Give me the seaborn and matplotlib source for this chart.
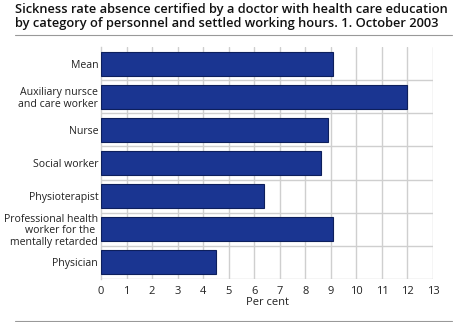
import matplotlib
matplotlib.use("Agg")
import matplotlib.pyplot as plt
import seaborn as sns
import pandas as pd
from matplotlib.lines import Line2D

categories = ["Mean", "Auxiliary nursce\nand care worker", "Nurse", "Social worker",
              "Physioterapist", "Professional health\nworker for the \nmentally retarded", "Physician"]
values = [9.1, 12.0, 8.9, 8.6, 6.4, 9.1, 4.5]
xticks = list(range(0, 14))

sns.set_theme(style="white")
plt.rcParams['font.family'] = ['Open Sans', 'DejaVu Sans']

df = pd.DataFrame({"cat": categories, "val": values})

fig = plt.figure(figsize=(4.62, 3.22), dpi=100)
ax = fig.add_axes([101/462, 1-279/322, (433-101)/462, (279-47)/322])

grid_c = "#cfcfcf"
for b in [i + 0.5 for i in range(len(categories))]:
    ax.axhline(b, color=grid_c, lw=1, zorder=1)
for t in xticks[1:]:
    ax.axvline(t, color=grid_c, lw=1, zorder=1)

sns.barplot(data=df, x="val", y="cat", orient="h", color="#1a3591", saturation=1,
            width=0.72, edgecolor="#0d1f5c", linewidth=0.8, ax=ax, zorder=3)

ax.set_xlim(0, 13)
ax.set_xticks(xticks)
ax.set_xticklabels([str(t) for t in xticks], fontsize=8, color="#222222")
ax.set_ylim(len(categories) - 0.5, -0.5)
ax.set_yticks(range(len(categories)))
ax.set_yticklabels(categories, fontsize=7.6, color="#222222", linespacing=1.05)
ax.tick_params(axis="y", length=0, pad=2)
ax.tick_params(axis="x", length=0, pad=5)
ax.set_xlabel("Per cent", fontsize=8, color="#222222", labelpad=0)
ax.set_ylabel("")
for s in ["top", "right", "bottom"]:
    ax.spines[s].set_visible(False)
ax.spines["left"].set_color(grid_c)
ax.spines["left"].set_linewidth(1)

fig.text(15/462, 1-3/322, "Sickness rate absence certified by a doctor with health care education\nby category of personnel and settled working hours. 1. October 2003",
         ha="left", va="top", fontsize=9.3, fontweight="semibold", color="#111111", linespacing=1.1)
fig.add_artist(Line2D([15/462, 452/462], [1-35/322, 1-35/322], color="#999999", lw=0.8))
fig.add_artist(Line2D([15/462, 452/462], [1-321/322, 1-321/322], color="#999999", lw=0.8))

fig.savefig("out.png", dpi=100)
